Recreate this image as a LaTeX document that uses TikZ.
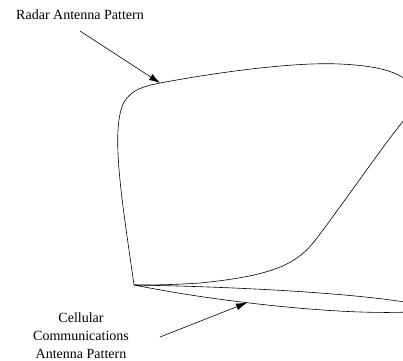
\documentclass[tikz,border=0pt]{standalone}
\usepackage{fontspec}
\setmainfont{Liberation Serif}
\usetikzlibrary{arrows.meta}

\begin{document}
\begin{tikzpicture}[x=1pt, y=-1pt, arrow/.style={-{Latex[length=11pt,width=7pt]}, semithick}, lobe/.style={draw, semithick}, caption/.style={font=\fontsize{14}{18}\selectfont, align=center, inner sep=0pt}]

        \useasboundingbox (0,0) rectangle (403,360);
        \clip (0,0) rectangle (403,360);

        \node [caption] (radar) at (80,15) {Radar Antenna Pattern};
        \node [caption] (cellular) at (81,335.5) {Cellular\\Communications\\Antenna Pattern};

        \coordinate (origin) at (134,285);
        \coordinate (radartip) at (160,83);
        \coordinate (radarfrom) at (80,31);
        \coordinate (celltip) at (247,302.7);
        \coordinate (cellfrom) at (160,337);

        % radar lobe
        \draw [lobe] (origin) .. controls (122,200) and (110,130) .. (124,102) .. controls (132,89) and (145,86) .. (radartip) .. controls (230,70) and (300,62) .. (340,64) .. controls (385,66) and (415,75) .. (415,98) .. controls (415,110) and (408,115) .. (400,125) .. controls (380,150) and (330,222) .. (313,243) .. controls (295,265) and (270,276) .. (200,283) .. controls (170,285) and (150,285) .. (origin);

        % cellular lobe
        \draw [lobe] (origin) .. controls (250,287) and (360,294) .. (410,303) .. controls (420,305) and (422,311) .. (410,312) .. controls (360,314) and (300,309) .. (celltip) .. controls (200,297) and (170,292) .. (origin);

        \draw [arrow] (radarfrom) -- (radartip);
        \draw [arrow] (cellfrom) -- (celltip);

\end{tikzpicture}
\end{document}
